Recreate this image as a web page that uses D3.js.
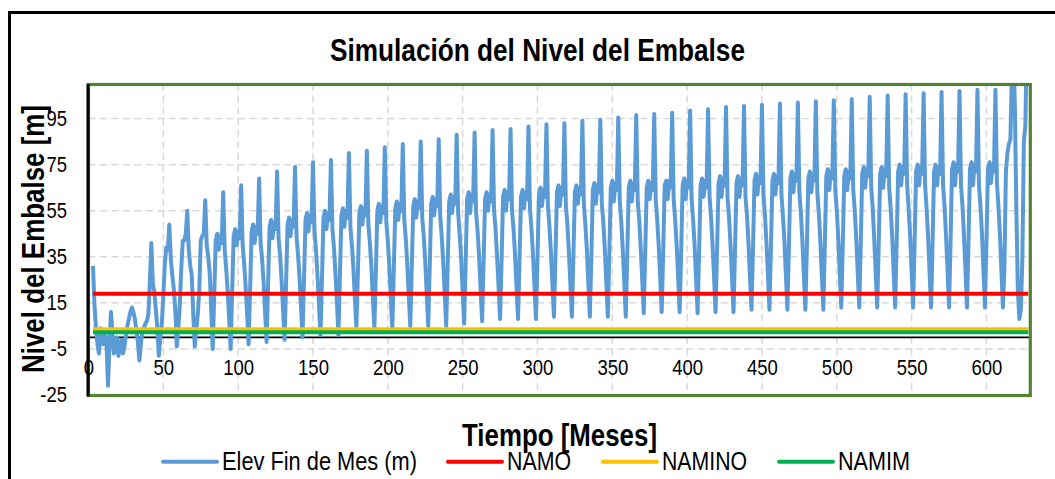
<!DOCTYPE html>
<html><head><meta charset="utf-8">
<script src="https://cdn.jsdelivr.net/npm/d3@7"></script>
<style>html,body{margin:0;padding:0;background:#fff;}svg{display:block;}</style>
</head><body>
<svg id="chart" width="1055" height="479"></svg>
<script>
// ---------------- DATA ----------------
const chartTitle = "Simulación del Nivel del Embalse";
const xTitle = "Tiempo [Meses]";
const yTitle = "Nivel del Embalse [m]";
const xTicks = [0, 50, 100, 150, 200, 250, 300, 350, 400, 450, 500, 550, 600];
const yTicks = [-25, -5, 15, 35, 55, 75, 95];
const seriesNames = ["Elev Fin de Mes (m)", "NAMO", "NAMINO", "NAMIM"];
const firstMonth = 3;          // month of the first simulated value
const lastMonth = 628;         // month of the last simulated value
const namo = 19;
const namino = 3.5;
const namim = 2.2;
// end-of-month reservoir elevation (m), months 3 .. 628
const elev = [
  31,14,4,-3,-7,4,1,-3,3,
  -2,-21,-4,11,2,-7,-1,0,-8,-4,-1,-7,
  -4,1,5,8,11,13,11,8,3,-2,-10,-3,
  3,4,6,7,10,24,41,23,20,12,4,-8,
  0,6,18,32,39,38,49,34,27,21,12,-4,
  4,14,30,42,42,45,55,38,31,27,10,-4,
  3,10,20,42,44,45,59.5,40,35,28,12,-5,
  18,42,45,38,44,41,63,38,30,20,8,-5,
  20,44,47,40,46,43,66,40,32,22,10,-3,
  21,46,49,41,48,45,69,41,34,24,11,-2,
  23,48,51,43,50,47,72,43,36,25,12,-1,
  23,49,52,44,51,48,74,44,36,26,13,0,
  25,51,54,46,53,50,76,46,38,27,14,1,
  25,52,55,47,54,51,77,47,39,28,15,1,
  27,53,56,48,55,52,80,48,40,30,17,4,
  28,54,57,49,56,53,81,49,41,31,17,4,
  28,55,58,50,57,54,82.5,50,42,31,17,4,
  29,56,59,51,58,55,84,51,43,32,18,5,
  30,57,60,52,59,56,85,52,44,33,19,5,
  30,58,61,53,60,57,86,53,44,33,19,5,
  31,59,62,54,61,58,88,54,45,34,20,6,
  32,60,63,54,62,59,89,54,46,35,21,7,
  33,60,63,55,62,59,90,55,47,35,22,8,
  33,61,64,55,63,60,90.5,55,47,36,22,8,
  33,61,64,56,63,60,91.5,56,47,36,22,8,
  34,62,65,57,64,61,92.5,57,48,37,23,9,
  34,63,66,57,65,62,93,57,49,37,23,9,
  35,63,66,58,65,62,94,58,49,38,23,9,
  35,64,67,58,66,63,94.5,58,50,38,24,9,
  36,65,68,59,67,64,95.5,59,50,38,24,9,
  36,65,68,59,67,64,96.5,59,51,39,25,10.5,
  37,65,68,60,67,64,97,60,51,40,26,11,
  37,66,68,60,68,65,97.5,60,51,40,26,11,
  37,66,69,60,68,65,98.5,60,51,40,25,10.5,
  37,66,69,61,68,65,99,61,52,40,26,11,
  38,67,70,61,69,66,100,61,52,40,26,11,
  38,67,70,61,69,66,100.5,61,53,41,26,12,
  38,68,71,62,70,67,101,62,53,41,27,12,
  39,68,71,62,70,67,101.5,62,53,42,27,12,
  39,69,72,63,71,68,102,63,54,42,27,12,
  39,69,72,63,71,68,102.5,63,54,42,27,12,
  40,70,73,64,72,69,103,64,55,43,28,13,
  40,70,73,64,72,69,103.5,64,55,43,28,13,
  40,71,74,65,73,70,104.5,65,56,43,28,13,
  40,71,74,65,73,70,105,65,56,44,28,13,
  41,72,75,66,74,71,105.5,66,56,44,29,13,
  41,72,75,66,74,71,106,66,56,44,28,13,
  41,72,75,66,74,71,106.5,66,57,44,29,13,
  41,73,76,66,75,72,107,66,57,44,29,13,
  41,73,76,66,75,72,107.5,66,57,45,29,13,
  41,73,76,67,75,72,107.5,67,57,45,29,13,
  30,72,80,84,86,115,125,100,55,20,8,12,
  34,85,92,130,135
];
const seriesColors = ["#5b9bd5", "#ff0000", "#ffc000", "#00b050"];

// ---------------- CHART ----------------
const FONT = "'Liberation Sans', Arial, sans-serif";
const svg = d3.select("#chart");
svg.append("rect").attr("width", 1055).attr("height", 479).attr("fill", "#fff");

// outer chart frame (extends beyond the picture on the right/bottom)
svg.append("rect").attr("x", 9.5).attr("y", 12.5).attr("width", 1200).attr("height", 700)
  .attr("fill", "none").attr("stroke", "#000").attr("stroke-width", 3);

const PL = 88.5, PR = 1030.3, PT = 84, PB = 395;
const x = d3.scaleLinear().domain([0, 629.3]).range([PL, PR]);
const y = d3.scaleLinear().domain([-25, 110]).range([PB, PT]);

const months = d3.range(firstMonth, lastMonth + 1);
const elevData = elev.map((v, i) => [months[i], v]);

// gridlines
const grid = svg.append("g").attr("stroke", "#d9d9d9").attr("stroke-width", 1.5)
  .attr("stroke-dasharray", "7,4.5");
grid.selectAll("line.h").data(yTicks.filter(v => v > -25)).join("line")
  .attr("x1", PL).attr("x2", PR).attr("y1", d => y(d)).attr("y2", d => y(d));
grid.selectAll("line.v").data(xTicks.filter(v => v > 0)).join("line")
  .attr("y1", PT).attr("y2", PB).attr("x1", d => x(d)).attr("x2", d => x(d));

// zero line (horizontal axis crossing)
svg.append("line").attr("x1", PL).attr("x2", PR).attr("y1", y(0)).attr("y2", y(0))
  .attr("stroke", "#000").attr("stroke-width", 1.8);

// clip
svg.append("clipPath").attr("id", "clip").append("rect")
  .attr("x", PL).attr("y", PT - 1).attr("width", PR - PL).attr("height", PB - PT + 1);

const line = d3.line().x(d => x(d[0])).y(d => y(d[1]));
const gData = svg.append("g").attr("clip-path", "url(#clip)");
gData.append("path").datum(elevData).attr("d", line)
  .attr("fill", "none").attr("stroke", seriesColors[0]).attr("stroke-width", 4)
  .attr("stroke-linejoin", "round");
[namo, namino, namim].forEach((lev, i) => {
  gData.append("path").datum(months.map(m => [m, lev])).attr("d", line)
    .attr("fill", "none").attr("stroke", seriesColors[i + 1]).attr("stroke-width", 4);
});

// plot-area border
svg.append("rect").attr("x", PL).attr("y", PT + 0.5).attr("width", PR - PL).attr("height", PB - PT)
  .attr("fill", "none").attr("stroke", "#548235").attr("stroke-width", 3.2);
// vertical axis line
svg.append("line").attr("x1", 88).attr("x2", 88).attr("y1", PT).attr("y2", PB + 1.5)
  .attr("stroke", "#000").attr("stroke-width", 3);

function squeeze(sel, f) {
  sel.each(function () {
    const w = this.getComputedTextLength();
    d3.select(this).attr("textLength", w * f).attr("lengthAdjust", "spacingAndGlyphs");
  });
}

// axes
const fmt = d => String(d);
const xAxis = svg.append("g").attr("transform", `translate(0,${y(0)})`)
  .call(d3.axisBottom(x).tickValues(xTicks).tickSize(0).tickPadding(22.4).tickFormat(fmt));
xAxis.select(".domain").remove();
xAxis.selectAll("text").attr("font-family", FONT).attr("font-size", 21.5).attr("fill", "#000");
squeeze(xAxis.selectAll("text"), 0.86);

const yAxis = svg.append("g").attr("transform", `translate(${PL},0)`)
  .call(d3.axisLeft(y).tickValues(yTicks).tickSize(0).tickPadding(21.5).tickFormat(fmt));
yAxis.select(".domain").remove();
yAxis.selectAll("text").attr("font-family", FONT).attr("font-size", 21.5).attr("fill", "#000");
squeeze(yAxis.selectAll("text"), 0.86);

// titles
svg.append("text").attr("x", 537.5).attr("y", 61).attr("text-anchor", "middle")
  .attr("font-family", FONT).attr("font-weight", "bold").attr("font-size", 31)
  .attr("textLength", 415).attr("lengthAdjust", "spacingAndGlyphs").text(chartTitle);
svg.append("text").attr("x", 559.5).attr("y", 446).attr("text-anchor", "middle")
  .attr("font-family", FONT).attr("font-weight", "bold").attr("font-size", 30.5)
  .attr("textLength", 195).attr("lengthAdjust", "spacingAndGlyphs").text(xTitle);
svg.append("text").attr("transform", "translate(43.5,239) rotate(-90)").attr("text-anchor", "middle")
  .attr("font-family", FONT).attr("font-weight", "bold").attr("font-size", 32)
  .attr("textLength", 268).attr("lengthAdjust", "spacingAndGlyphs").text(yTitle);

// legend
const legX1 = [163, 448, 603, 779];
const legTextX = [222, 507, 662, 838];
const legTextW = [195, 64, 85, 72];
const legend = svg.append("g");
seriesNames.forEach((name, i) => {
  legend.append("line").attr("x1", legX1[i]).attr("x2", legX1[i] + 54)
    .attr("y1", 461.7).attr("y2", 461.7).attr("stroke", seriesColors[i]).attr("stroke-width", 4)
    .attr("stroke-linecap", "round");
  legend.append("text").attr("x", legTextX[i]).attr("y", 470)
    .attr("font-family", FONT).attr("font-size", 25).attr("fill", "#000")
    .attr("textLength", legTextW[i]).attr("lengthAdjust", "spacingAndGlyphs").text(name);
});
</script>
</body></html>
